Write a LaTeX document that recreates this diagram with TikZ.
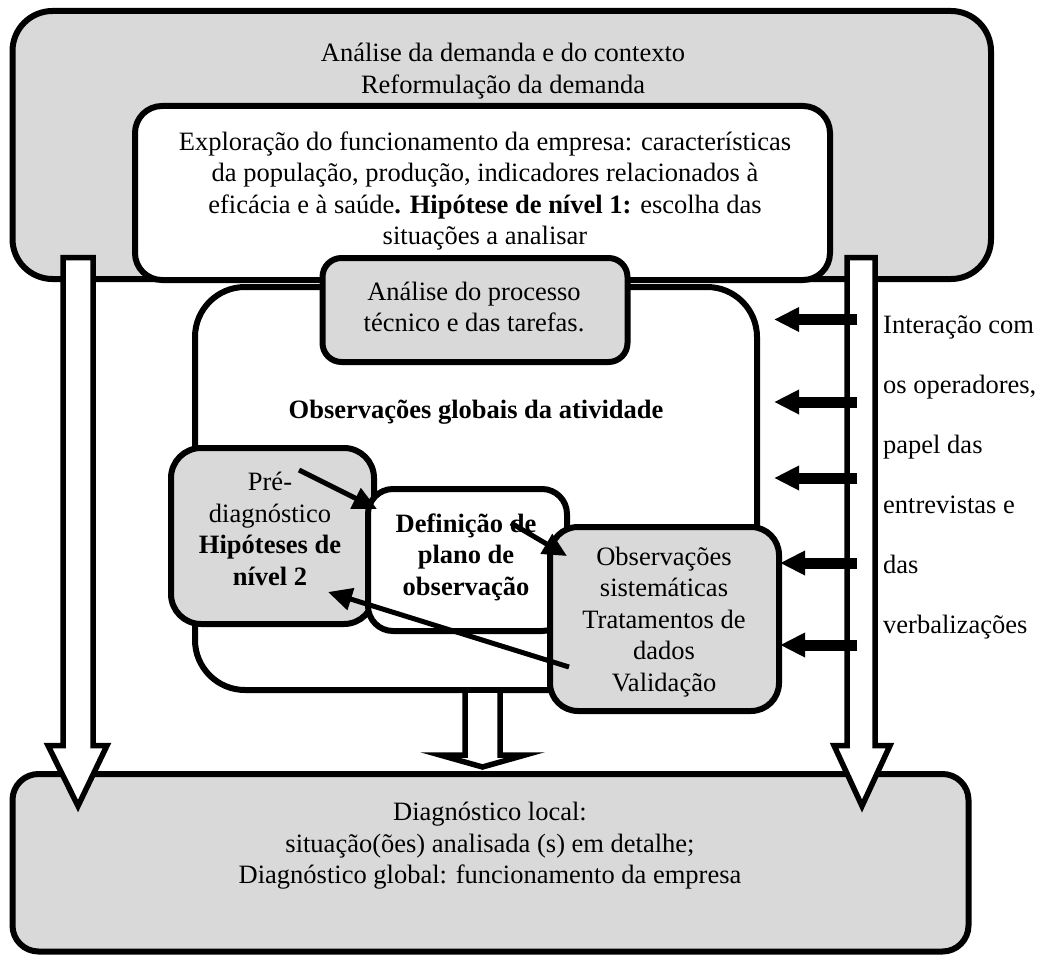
\documentclass[tikz,border=0pt]{standalone}
\usepackage{fontspec}
\setmainfont{Liberation Serif}
\usetikzlibrary{arrows.meta}
\definecolor{boxgray}{RGB}{217,217,217}
\begin{document}
\begin{tikzpicture}[x=1pt,y=-1pt,
  panel/.style={draw, line width=6pt, inner sep=0pt},
  txt/.style={align=center, inner sep=0pt, font=\fontsize{26.5}{31.5}\selectfont},
  hollow/.style={draw, fill=white, line width=5.5pt},
  thinarrow/.style={line width=5pt, -{Triangle[length=24pt,width=22pt]}},
  pusharrow/.style={line width=11pt, -{Triangle[length=25pt,width=23pt]}}]
\useasboundingbox (0,0) rectangle (1041,955);

% outer stages
\node[panel, fill=boxgray, rounded corners=40pt, minimum width=978.5pt, minimum height=268pt] (demanda) at (501.75,145) {};
\node[panel, fill=white, rounded corners=27pt, minimum width=695pt, minimum height=174pt] (explor) at (482.5,193) {};
\node[panel, fill=boxgray, rounded corners=26pt, minimum width=956pt, minimum height=177.5pt] (diag) at (490.5,862.75) {};

% side flows towards the diagnosis
\path[hollow] (63,257.5) -- (63,745.5) -- (48,745.5) -- (78,806) -- (107,745.5) -- (93,745.5) -- (93,257.5) -- cycle;
\path[hollow] (847,257.5) -- (847,745.5) -- (834,745.5) -- (862,806) -- (890,745.5) -- (875,745.5) -- (875,257.5) -- cycle;

% activity analysis
\node[panel, fill=white, rounded corners=50pt, minimum width=562pt, minimum height=403pt] (globais) at (476,488.5) {};
\node[panel, fill=boxgray, rounded corners=19pt, minimum width=305pt, minimum height=104pt] (tecnico) at (475,310) {};
\node[panel, fill=boxgray, rounded corners=30pt, minimum width=203pt, minimum height=176pt] (prediag) at (272.5,536) {};
\node[panel, fill=white, rounded corners=25pt, minimum width=199pt, minimum height=142pt] (plano) at (467.5,560) {};
\node[panel, fill=boxgray, rounded corners=28pt, minimum width=229pt, minimum height=184pt] (sistem) at (664.5,619) {};

% central flow
\path[hollow] (465,690) -- (465,755) -- (440,755) -- (482.5,767) -- (525,755) -- (500,755) -- (500,690) -- cycle;

% loop between the steps
\coordinate (p1) at (299,470);
\coordinate (p1e) at (377,509);
\coordinate (p2) at (511,523);
\coordinate (p2e) at (567,556);
\coordinate (p3) at (569,667);
\coordinate (p3e) at (328,592);
\draw[thinarrow] (p1) -- (p1e);
\draw[thinarrow] (p2) -- (p2e);
\draw[thinarrow] (p3) -- (p3e);

% interaction arrows
\foreach \i/\y/\x in {1/319.5/774, 2/402/774, 3/478/774, 4/563/780, 5/645/780} {
  \coordinate (in\i) at (857,\y);
  \coordinate (out\i) at (\x,\y);
  \draw[pusharrow] (in\i) -- (out\i);
}

% texts
\node[txt] (tdem) at (503,71) {Análise da demanda e do contexto\\Reformulação da demanda};
\node[txt] (texp) at (485,191) {Exploração do funcionamento da empresa: características\\da população, produção, indicadores relacionados à\\eficácia e à saúde\textbf{. Hipótese de nível 1:} escolha das\\situações a analisar};
\node[txt] (ttec) at (474,307) {Análise do processo\\técnico e das tarefas.};
\node[txt, font=\fontsize{26.5}{31.5}\selectfont\bfseries] (tglob) at (476,412) {Observações globais da atividade};
\node[txt] (tpre) at (270,529) {Pré-\\diagnóstico\\\textbf{Hipóteses de}\\\textbf{nível 2}};
\node[txt, font=\fontsize{26.5}{31.5}\selectfont\bfseries] (tplano) at (466,557) {Definição de\\plano de\\observação};
\node[txt] (tsis) at (664,622) {Observações\\sistemáticas\\Tratamentos de\\dados\\Validação};
\node[txt] (tdiag) at (490,846) {Diagnóstico local:\\situação(ões) analisada (s) em detalhe;\\Diagnóstico global: funcionamento da empresa};
\node[align=left, inner sep=0pt, anchor=west, font=\fontsize{26.5}{60}\selectfont] (tint) at (883,477) {Interação com\\os operadores,\\papel das\\entrevistas e\\das\\verbalizações};
\end{tikzpicture}
\end{document}
